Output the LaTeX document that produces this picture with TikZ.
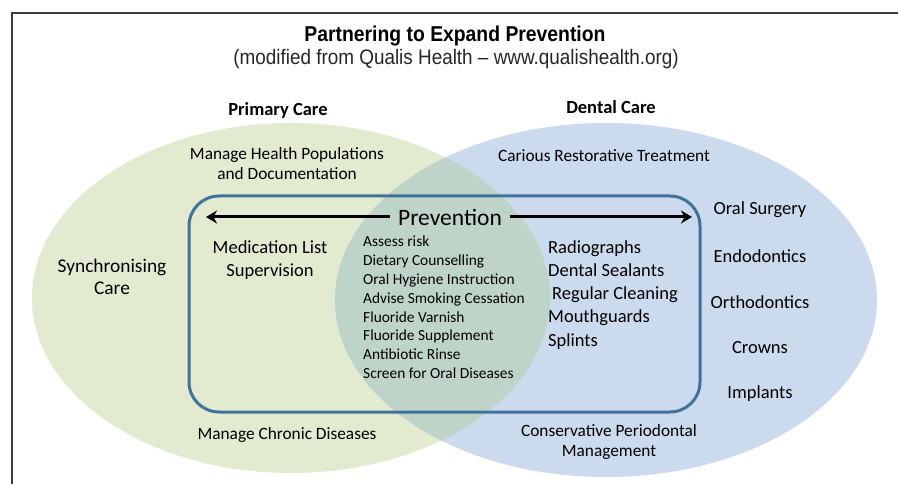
\documentclass[tikz,border=0pt]{standalone}
\usepackage{fontspec}
\setmainfont{Carlito}
\newfontfamily\titlefont[FakeStretch=0.9,Ligatures=TeX]{Liberation Sans}
\usetikzlibrary{arrows.meta}
\definecolor{greenfill}{RGB}{226,235,208}
\definecolor{bluefill}{RGB}{204,218,237}
\definecolor{overlapfill}{RGB}{190,212,200}
\definecolor{boxblue}{RGB}{65,113,156}
\definecolor{framegray}{RGB}{60,60,60}
\tikzset{
  txt/.style={font=\fontsize{17.3}{20}\selectfont, align=center, inner sep=0pt, text=black},
  bigtxt/.style={font=\fontsize{18.5}{23}\selectfont, align=center, inner sep=0pt, text=black},
  headtxt/.style={font=\bfseries\fontsize{18.5}{22}\selectfont, inner sep=0pt},
  listtxt/.style={font=\fontsize{15.4}{18.8}\selectfont, align=left, inner sep=0pt, text=black},
  arr/.style={line width=3pt, -{Stealth[length=11pt,width=13pt]}}
}
\begin{document}
\begin{tikzpicture}[x=1pt,y=-1pt]
\useasboundingbox (0,0) rectangle (898,484);
% frame
\draw[framegray, line width=1.3pt] (12,484) -- (12,13) -- (898,13);
% ellipses
\fill[greenfill] (291,298) ellipse [x radius=259, y radius=175];
\fill[bluefill] (606,300) ellipse [x radius=271, y radius=177];
\begin{scope}
  \clip (291,298) ellipse [x radius=259, y radius=175];
  \fill[overlapfill] (606,300) ellipse [x radius=271, y radius=177];
\end{scope}
% rounded box
\draw[boxblue, line width=3pt, rounded corners=30pt] (189,196) rectangle (700,412);
% title
\node[font=\titlefont\bfseries\fontsize{21.5}{24}\selectfont, inner sep=0pt] (title) at (455,36) {Partnering to Expand Prevention};
\node[font=\titlefont\fontsize{21}{24}\selectfont, inner sep=0pt, text=black!85] (subtitle) at (456,59) {(modified from Qualis Health – www.qualishealth.org)};
% headings
\node[headtxt] (primary) at (278,110) {Primary Care};
\node[headtxt] (dental) at (611,107) {Dental Care};
% primary texts
\node[txt] (mhp) at (287,164) {Manage Health Populations\\and Documentation};
\node[txt, font=\fontsize{19.4}{22}\selectfont] (sync) at (112,277) {Synchronising\\Care};
\node[txt] (mcd) at (287,435) {Manage Chronic Diseases};
% dental texts
\node[txt] (crt) at (604,156) {Carious Restorative Treatment};
\node[txt] (cpm) at (609,442) {Conservative Periodontal\\Management};
% prevention
\node[font=\fontsize{23.5}{28}\selectfont, inner sep=2pt, text=black] (prev) at (450,217) {Prevention};
\coordinate (leftend) at (206,217);
\coordinate (rightend) at (692,217);
\draw[arr] (prev.west) ++(-6,0) -- (leftend);
\draw[arr] (prev.east) ++(6,0) -- (rightend);
% medication
\node[bigtxt] (med) at (270,260) {Medication List\\Supervision};
% center list
\node[listtxt, anchor=north west] (clist) at (363,236) {Assess risk\\Dietary Counselling\\Oral Hygiene Instruction\\Advise Smoking Cessation\\Fluoride Varnish\\Fluoride Supplement\\Antibiotic Rinse\\Screen for Oral Diseases};
% right list inside box
\node[bigtxt, align=left, anchor=north west, font=\fontsize{18.5}{23.3}\selectfont] (rlist) at (548,240) {Radiographs\\Dental Sealants\\\hspace*{4pt}Regular Cleaning\\Mouthguards\\Splints};
% right column
\node[bigtxt] (os) at (760,210) {Oral Surgery};
\node[bigtxt] (endo) at (760,256) {Endodontics};
\node[bigtxt] (ortho) at (760,302) {Orthodontics};
\node[bigtxt] (crowns) at (760,348) {Crowns};
\node[bigtxt] (impl) at (760,394) {Implants};
\end{tikzpicture}
\end{document}
